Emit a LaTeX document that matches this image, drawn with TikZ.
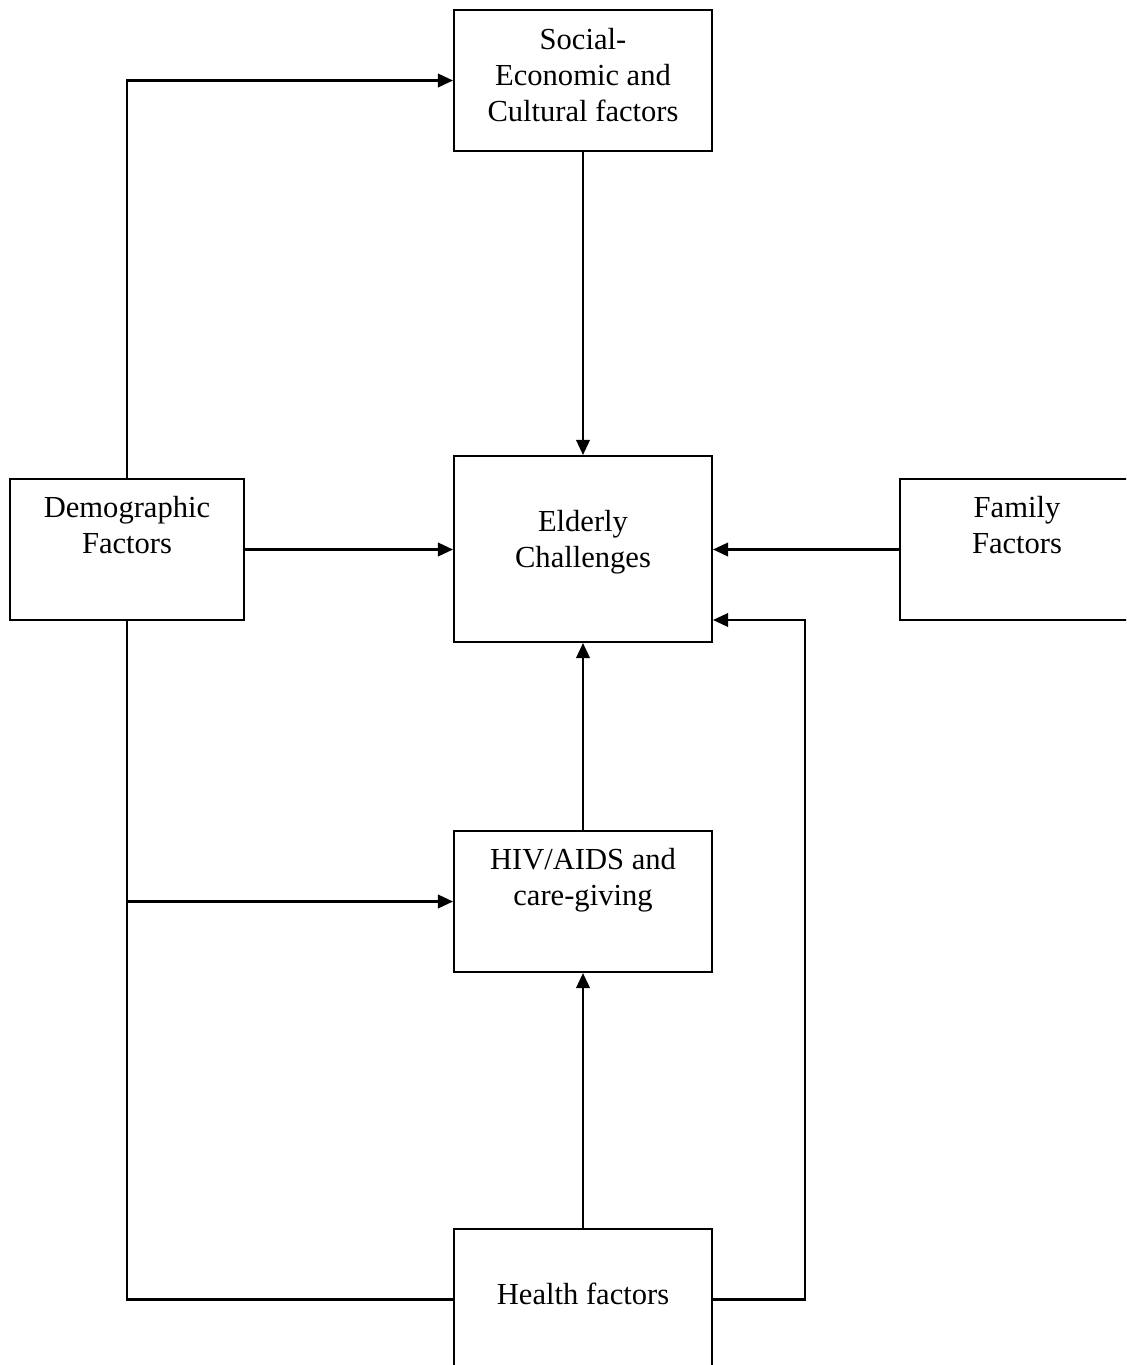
\documentclass[tikz,border=0pt]{standalone}
\usepackage{fontspec}
\setmainfont{Liberation Serif}
\usetikzlibrary{arrows.meta}
\usetikzlibrary{positioning}

\tikzset{
  box/.style={draw, line width=1.2pt, minimum width=5.16cm, minimum height=2.82cm, inner sep=0pt},
  lbl/.style={align=center, inner sep=0pt, anchor=north, font=\fontsize{17.4}{20.5}\selectfont},
  arr/.style={line width=1.2pt, -{Triangle[length=0.3cm, width=0.27cm]}},
  con/.style={line width=1.2pt}
}

\begin{document}
\begin{tikzpicture}[x=0.02cm, y=-0.02cm]
\clip (0,0) rectangle (1126,1365);
\fill[white] (0,0) rectangle (1126,1365);

% boxes
\node[box] (soc) at (583,80.5) {};
\node[box, minimum height=3.72cm] (eld) at (583,549) {};
\node[box, minimum width=4.68cm] (dem) at (127,549.5) {};
\node[box, minimum width=4.68cm] (fam) at (1017,549.5) {};
\node[box] (hiv) at (583,901.5) {};
\node[box] (hea) at (583,1299.5) {};

% texts
\node[lbl, below=0.38cm of soc.north] (socT) {Social-\\Economic and\\Cultural factors};
\node[lbl, below=1.1cm of eld.north] (eldT) {Elderly\\Challenges};
\node[lbl, below=0.36cm of dem.north] (demT) {Demographic\\Factors};
\node[lbl, below=0.36cm of fam.north] (famT) {Family\\Factors};
\node[lbl, below=0.36cm of hiv.north] (hivT) {HIV/AIDS and\\care-giving};
\node[lbl, below=1.1cm of hea.north] (heaT) {Health factors};

% connectors
\coordinate (ret) at (805,620);
\draw[arr] (dem.north) |- (soc.west);
\draw[arr] (soc.south) -- (eld.north);
\draw[arr] (dem.east) -- (dem.east -| eld.west);
\draw[arr] (fam.west) -- (fam.west -| eld.east);
\draw[con] (dem.south) |- (hea.west);
\draw[arr] (dem.south |- hiv.west) -- (hiv.west);
\draw[arr] (hiv.north) -- (eld.south);
\draw[arr] (hea.north) -- (hiv.south);
\draw[arr] (hea.east) -| (ret) -- (ret -| eld.east);
\end{tikzpicture}
\end{document}
